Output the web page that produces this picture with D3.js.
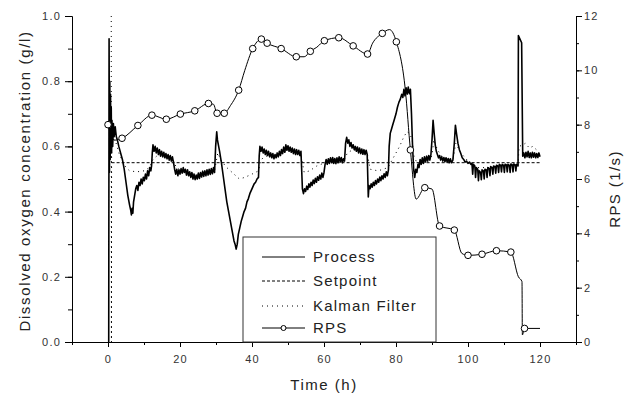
<!DOCTYPE html>
<html>
<head>
<meta charset="utf-8">
<script src="https://cdn.jsdelivr.net/npm/d3@7"></script>
<style>
  body { margin: 0; background: #fff; }
  svg text { font-family: "Liberation Sans", Arial, sans-serif; }
</style>
</head>
<body>
<div id="chart"></div>
<script>
// ---- data ----
var xTicks = [0, 20, 40, 60, 80, 100, 120];
var doTicks = [0.0, 0.2, 0.4, 0.6, 0.8, 1.0];
var rpsTicks = [0, 2, 4, 6, 8, 10, 12];
var legendLabels = ["Process", "Setpoint", "Kalman Filter", "RPS"];

var setpointTime = [1.0, 120];
var setpointValue = [0.55, 0.55];

// process, split in pieces [time h, DO g/l]
var processStart = [[0.2,0.0],[0.3,0.93],[0.4,0.52],[0.5,0.80],[0.6,0.56],[0.7,0.76],[0.8,0.60],[0.9,0.72],[1.0,0.58],[1.1,0.68],[1.3,0.60],[1.5,0.67],[1.7,0.63],[2.0,0.66],[2.3,0.63],[2.6,0.62],
  [3.0,0.60],[3.5,0.58],[4.0,0.56],[4.5,0.53],[5.0,0.49],[5.5,0.45],[6.0,0.42],[6.3,0.405],[6.5,0.39],[6.7,0.41],[6.9,0.395],[7.1,0.43],[7.4,0.45],[7.7,0.47],[8.0,0.48],[8.3,0.465],[8.6,0.49],[8.9,0.48],[9.2,0.50],[9.5,0.485],[9.8,0.505],[10.1,0.495],[10.4,0.515],[10.7,0.50],[11.0,0.525],[11.3,0.51],[11.6,0.535],[11.9,0.525],[12.1,0.54]];
var processA = [[12.3,0.58],[12.5,0.605],[12.8,0.585],[13.1,0.60],[13.4,0.58],[13.7,0.595],[14.0,0.575],[14.3,0.59],[14.6,0.57],[14.9,0.585],[15.2,0.568],[15.5,0.582],[15.8,0.565],[16.1,0.578],[16.4,0.562],[16.7,0.575],[17.0,0.558],[17.3,0.572],[17.6,0.555],[17.9,0.568],[18.2,0.55],
  [18.5,0.53],[18.8,0.515],[19.1,0.53],[19.4,0.51],[19.7,0.528],[20.0,0.515],[20.3,0.532],[20.6,0.518],[20.9,0.535],[21.2,0.52],[21.5,0.53],[21.8,0.512],[22.1,0.528],[22.4,0.51],[22.7,0.522],[23.0,0.505],[23.3,0.52],[23.6,0.50],[23.9,0.515],[24.2,0.498],[24.5,0.512],[24.8,0.50],[25.1,0.518],[25.4,0.502],[25.7,0.52],[26.0,0.506],[26.3,0.524],[26.6,0.508],[26.9,0.525],[27.2,0.51],[27.5,0.528],[27.8,0.512],[28.1,0.53],[28.4,0.514],[28.7,0.532],[29.0,0.516],[29.3,0.535],[29.6,0.52]];
var processB = [[29.9,0.60],[30.2,0.645],[30.4,0.62],[31.0,0.585],[31.5,0.55],[32.0,0.51],[32.5,0.47],[33.0,0.43],[33.5,0.40],[34.0,0.37],[34.5,0.34],[35.0,0.31],[35.3,0.30],[35.6,0.285],[35.9,0.30],[36.2,0.33],[36.6,0.35],[37.0,0.37],[37.4,0.385],[37.8,0.40],[38.2,0.41],[38.6,0.43],[39.0,0.44],[39.4,0.455],[39.8,0.465],[40.2,0.475],[40.6,0.485],[41.0,0.49],[41.4,0.50],[41.8,0.505],
  [42.0,0.57],[42.2,0.60],[42.5,0.585],[42.8,0.598],[43.1,0.58],[43.4,0.592],[43.7,0.575],[44.0,0.588],[44.3,0.572],[44.6,0.585],[44.9,0.568],[45.2,0.58],[45.5,0.565],[45.8,0.578],[46.1,0.562],[46.4,0.575],[46.7,0.565],[47.0,0.58],[47.3,0.568],[47.6,0.585],[47.9,0.572],[48.2,0.59],[48.5,0.578],[48.8,0.598],[49.1,0.582],[49.4,0.605],[49.7,0.588],[50.0,0.602],[50.3,0.585],[50.6,0.598],[50.9,0.582],[51.2,0.595],[51.5,0.578],[51.8,0.592],[52.1,0.575],[52.4,0.59],[52.7,0.575],[53.0,0.588],[53.3,0.572],[53.6,0.585]];
var processC = [[54.0,0.47],[54.3,0.455],[54.6,0.47],[54.9,0.462],[55.2,0.478],[55.5,0.468],[55.8,0.485],[56.1,0.475],[56.4,0.49],[56.7,0.48],[57.0,0.497],[57.3,0.486],[57.6,0.502],[57.9,0.49],[58.2,0.507],[58.5,0.496],[58.8,0.512],[59.1,0.50],[59.4,0.518],[59.7,0.505],[60.0,0.52],
  [60.3,0.545],[60.6,0.56],[60.9,0.545],[61.2,0.562],[61.5,0.548],[61.8,0.565],[62.1,0.55],[62.4,0.566],[62.7,0.548],[63.0,0.563],[63.3,0.547],[63.6,0.565],[63.9,0.55],[64.2,0.568],[64.5,0.552],[64.8,0.566],[65.1,0.55],[65.4,0.562],[65.7,0.555],
  [66.0,0.61],[66.3,0.628],[66.6,0.61],[66.9,0.62],[67.2,0.60],[67.5,0.612],[67.8,0.595],[68.1,0.605],[68.4,0.59],[68.7,0.60],[69.0,0.585],[69.3,0.598],[69.6,0.58],[69.9,0.595],[70.2,0.578],[70.5,0.592],[70.8,0.576],[71.1,0.59],[71.4,0.575],[71.7,0.588],[72.0,0.575]];
var processD = [[72.3,0.445],[72.5,0.48],[72.8,0.47],[73.1,0.485],[73.4,0.475],[73.7,0.49],[74.0,0.48],[74.3,0.495],[74.6,0.485],[74.9,0.5],[75.2,0.49],[75.5,0.506],[75.8,0.495],[76.1,0.51],[76.4,0.5],[76.7,0.516],[77.0,0.505],[77.3,0.522],[77.6,0.51],[77.9,0.528],
  [78.1,0.60],[78.4,0.64],[78.8,0.655],[79.2,0.67],[79.6,0.685],[80.0,0.70],[80.4,0.72],[80.8,0.735],[81.2,0.745],[81.6,0.76],[81.9,0.75],[82.2,0.775],[82.5,0.755],[82.8,0.78],[83.1,0.76],[83.4,0.782],[83.7,0.762],[84.0,0.775],
  [84.3,0.70],[84.6,0.60],[84.9,0.53],[85.2,0.505],[85.5,0.53],[85.8,0.52],[86.1,0.545],[86.4,0.535],[86.7,0.56],[87.0,0.545],[87.3,0.565],[87.6,0.548],[87.9,0.568],[88.2,0.552],[88.5,0.57],[88.8,0.555],[89.1,0.572],[89.4,0.558],[89.7,0.575]];
var processE = [[90.0,0.62],[90.3,0.68],[90.6,0.64],[90.9,0.605],[91.2,0.585],[91.5,0.575],[91.8,0.565],[92.1,0.572],[92.4,0.558],[92.7,0.568],[93.0,0.555],[93.3,0.566],[93.6,0.553],[93.9,0.565],[94.2,0.552],[94.5,0.563],[94.8,0.55],[95.1,0.562],[95.4,0.55],[95.8,0.558],
  [96.2,0.61],[96.5,0.665],[96.8,0.64],[97.2,0.61],[97.6,0.59],[98.0,0.578],[98.4,0.565],[98.8,0.56],[99.2,0.552],[99.6,0.555],[100.0,0.548],[100.4,0.552],
  [100.8,0.545],[101.1,0.548],[101.3,0.515],[101.5,0.545],[101.9,0.54],[102.1,0.505],[102.3,0.535],[102.7,0.53],[102.9,0.495],[103.1,0.525],[103.5,0.52],[103.7,0.498],[103.9,0.528],[104.3,0.525],[104.5,0.50],[104.7,0.53],[105.1,0.528],[105.3,0.505],[105.5,0.535],[105.9,0.532],[106.1,0.51],[106.3,0.538],[106.7,0.535],[106.9,0.515],[107.1,0.54],[107.5,0.538],[107.7,0.518],[107.9,0.542],[108.3,0.54],[108.5,0.52],[108.7,0.545],[109.1,0.542],[109.3,0.522],[109.5,0.545],[109.9,0.542],[110.1,0.52],[110.3,0.545],[110.7,0.543],[110.9,0.522],[111.1,0.545],[111.5,0.542],[111.7,0.52],[111.9,0.546],[112.3,0.543],[112.5,0.522],[112.7,0.546],[113.1,0.543],[113.3,0.525],[113.5,0.545],[113.9,0.54]];
var processEnd = [[114.0,0.94],[114.9,0.918],[115.2,0.57],[115.5,0.58],[115.8,0.565],[116.1,0.582],[116.4,0.568],[116.7,0.585],[117.0,0.566],[117.3,0.58],[117.6,0.565],[117.9,0.582],[118.2,0.567],[118.5,0.58],[118.8,0.565],[119.1,0.578],[119.4,0.566],[119.7,0.58],[120.0,0.568]];

var kalman = [[0.9,1.0],[0.95,0.0],[1.0,0.62],[2,0.62],[3,0.58],[4,0.555],[5,0.535],[6,0.525],[8,0.522],[10,0.525],[11.5,0.535],[12.5,0.56],[14,0.575],[16,0.57],[18,0.56],[19,0.535],[21,0.522],[25,0.512],[29.5,0.52],[30.5,0.58],[31.5,0.555],[33,0.535],[35,0.515],[36.5,0.50],[38,0.505],[40,0.515],[41.8,0.525],[42.5,0.56],[44,0.57],[47,0.572],[50,0.59],[53.5,0.58],[54.5,0.52],[56,0.525],[58,0.54],[60.3,0.55],[62,0.555],[65.5,0.556],[66.5,0.58],[68,0.59],[72,0.58],[72.8,0.53],[75,0.525],[77.8,0.535],[79,0.56],[80,0.58],[81,0.60],[82,0.625],[83,0.645],[83.8,0.64],[84.5,0.62],[85,0.57],[86,0.545],[88,0.556],[90,0.57],[90.5,0.62],[91.5,0.59],[93,0.565],[95.8,0.557],[96.6,0.61],[98,0.58],[100,0.555],[102,0.535],[106,0.535],[110,0.54],[113.9,0.542],[114.2,0.60],[115.3,0.605],[116,0.61],[117,0.595],[118,0.60],[119,0.59],[120,0.592]];

// RPS: time, value, marker shown (1) or not (0)
var rpsTime  = [0, 1.8, 3.9, 8.3, 12.2, 16.2, 20.1, 24.1, 27.9, 29.3, 30.3, 32.3, 34, 36.3, 38, 40.2, 42.6, 44.2, 48.1, 52.3, 54.5, 56.2, 58, 60.1, 64.1, 68.1, 72.1, 73.5, 76.2, 78.2, 80.1, 82.6, 84, 85.6, 88, 90, 92.1, 96.2, 98.3, 100, 103.9, 107.9, 111.9, 114, 115, 115.1, 115.7, 120];
var rpsValue = [8.0, 7.43, 7.5, 7.97, 8.35, 8.2, 8.39, 8.51, 8.78, 8.75, 8.42, 8.42, 8.7, 9.27, 10.0, 10.8, 11.15, 11.0, 10.8, 10.5, 10.5, 10.7, 10.85, 11.09, 11.2, 10.9, 10.6, 11.0, 11.36, 11.5, 11.05, 9.27, 7.07, 5.26, 5.68, 5.63, 4.27, 4.12, 3.26, 3.19, 3.23, 3.36, 3.31, 2.4, 2.22, 0.26, 0.5, 0.5];
var rpsMark  = [1, 0, 1, 1, 1, 1, 1, 1, 1, 0, 1, 1, 0, 1, 0, 1, 1, 1, 1, 1, 0, 1, 0, 1, 1, 1, 1, 0, 1, 0, 1, 0, 1, 0, 1, 0, 1, 1, 0, 1, 1, 1, 1, 0, 0, 0, 1, 0];

// ---- drawing ----
var W = 628, H = 396;
var plotLeft = 72, plotRight = 576, plotTop = 16, plotBottom = 342;

var svg = d3.select("#chart").append("svg")
  .attr("width", W).attr("height", H);

var x = d3.scaleLinear().domain([-10, 130]).range([plotLeft, plotRight]);
var yDo = d3.scaleLinear().domain([0, 1]).range([plotBottom, plotTop]);
var yRps = d3.scaleLinear().domain([0, 12]).range([plotBottom, plotTop]);

function styleAxis(g) {
  g.select(".domain").attr("stroke", "#000");
  g.selectAll(".tick line").attr("stroke", "#000");
  g.selectAll("text").attr("fill", "#333").style("font-size", "11px").style("letter-spacing", "1.2px");
}

// minor ticks
svg.append("g").attr("transform", "translate(0," + plotBottom + ")")
  .call(d3.axisBottom(x).tickValues(d3.range(-10, 131, 10)).tickSize(3).tickFormat("").tickSizeOuter(0))
  .call(styleAxis);
svg.append("g").attr("transform", "translate(" + plotLeft + ",0)")
  .call(d3.axisLeft(yDo).tickValues(d3.range(0, 1.01, 0.1)).tickSize(4).tickFormat("").tickSizeOuter(0))
  .call(styleAxis);
svg.append("g").attr("transform", "translate(" + plotRight + ",0)")
  .call(d3.axisRight(yRps).tickValues(d3.range(0, 13, 1)).tickSize(3).tickFormat("").tickSizeOuter(0))
  .call(styleAxis);

// major ticks
svg.append("g").attr("transform", "translate(0," + plotBottom + ")")
  .call(d3.axisBottom(x).tickValues(xTicks).tickSize(5).tickPadding(8).tickSizeOuter(0))
  .call(styleAxis);
svg.append("g").attr("transform", "translate(" + plotLeft + ",0)")
  .call(d3.axisLeft(yDo).tickValues(doTicks).tickFormat(d3.format(".1f")).tickSize(7).tickPadding(4).tickSizeOuter(0))
  .call(styleAxis);
svg.append("g").attr("transform", "translate(" + plotRight + ",0)")
  .call(d3.axisRight(yRps).tickValues(rpsTicks).tickSize(6).tickPadding(2).tickSizeOuter(0))
  .call(styleAxis);

// titles
svg.append("text").attr("transform", "translate(30,181) rotate(-90)")
  .attr("text-anchor", "middle").attr("fill", "#222")
  .style("font-size", "15px").style("letter-spacing", "1.65px")
  .text("Dissolved oxygen concentration (g/l)");
svg.append("text").attr("transform", "translate(620,189) rotate(-90)")
  .attr("text-anchor", "middle").attr("fill", "#222")
  .style("font-size", "15px").style("letter-spacing", "1.4px")
  .text("RPS (1/s)");
svg.append("text").attr("x", 324).attr("y", 390)
  .attr("text-anchor", "middle").attr("fill", "#222")
  .style("font-size", "15px").style("letter-spacing", "1.5px")
  .text("Time (h)");

// lines
var doLine = d3.line().x(function (d) { return x(d[0]); }).y(function (d) { return yDo(d[1]); });

var setpoint = setpointTime.map(function (t, i) { return [t, setpointValue[i]]; });
svg.append("path").datum(setpoint).attr("d", doLine)
  .attr("fill", "none").attr("stroke", "#000").attr("stroke-width", 1).attr("stroke-dasharray", "3,2");

svg.append("path").datum(kalman).attr("d", doLine)
  .attr("fill", "none").attr("stroke", "#000").attr("stroke-width", 1).attr("stroke-dasharray", "1,4");

var process = [].concat(processStart, processA, processB, processC, processD, processE, processEnd);
svg.append("path").datum(process).attr("d", doLine)
  .attr("fill", "none").attr("stroke", "#000").attr("stroke-width", 1.6).attr("stroke-linejoin", "round");

var rps = rpsTime.map(function (t, i) { return { t: t, v: rpsValue[i], m: rpsMark[i] }; });
var rpsLine = d3.line().curve(d3.curveMonotoneX)
  .x(function (d) { return x(d.t); }).y(function (d) { return yRps(d.v); });
svg.append("path").datum(rps).attr("d", rpsLine)
  .attr("fill", "none").attr("stroke", "#000").attr("stroke-width", 1);

svg.selectAll("circle.rps").data(rps.filter(function (d) { return d.m === 1; }))
  .enter().append("circle").attr("class", "rps")
  .attr("cx", function (d) { return x(d.t); })
  .attr("cy", function (d) { return yRps(d.v); })
  .attr("r", 3.3)
  .attr("fill", "#fff").attr("stroke", "#000").attr("stroke-width", 1);

// legend
var legend = svg.append("g");
legend.append("rect").attr("x", 243).attr("y", 237).attr("width", 193).attr("height", 105)
  .attr("fill", "#fff").attr("stroke", "#333").attr("stroke-width", 1);

var legendY = [257, 281, 306, 328];
var legendDash = [null, "3,2", "1,4", null];
legendLabels.forEach(function (label, i) {
  legend.append("line").attr("x1", 262).attr("x2", 305)
    .attr("y1", legendY[i]).attr("y2", legendY[i])
    .attr("stroke", "#000").attr("stroke-width", 1)
    .attr("stroke-dasharray", legendDash[i]);
  legend.append("text").attr("x", 313).attr("y", legendY[i] + 5)
    .attr("fill", "#222").style("font-size", "15px").style("letter-spacing", "1.2px")
    .text(label);
});
legend.append("circle").attr("cx", 283.5).attr("cy", legendY[3]).attr("r", 2.5)
  .attr("fill", "#fff").attr("stroke", "#000");
</script>
</body>
</html>
